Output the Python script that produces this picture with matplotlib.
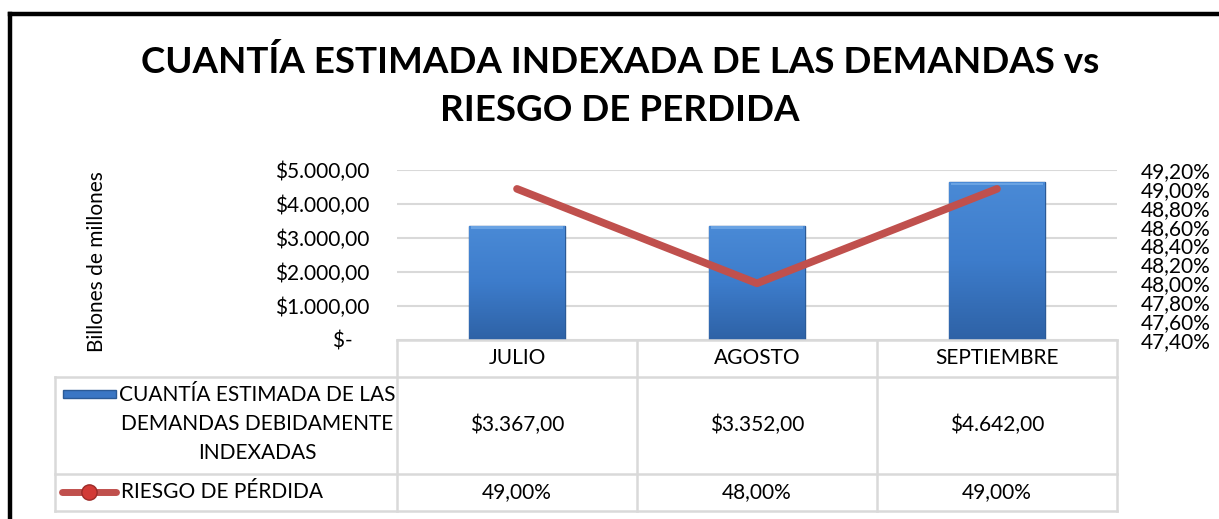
import numpy as np
import matplotlib
matplotlib.use("Agg")
import matplotlib.pyplot as plt
from matplotlib.lines import Line2D
from matplotlib.patches import Rectangle
from matplotlib.colors import LinearSegmentedColormap

# --- data -------------------------------------------------------------
months = ["JULIO", "AGOSTO", "SEPTIEMBRE"]
cuantia = [3367.0, 3352.0, 4642.0]      # billones de millones
riesgo = [49.0, 48.0, 49.0]             # riesgo de perdida, %
left_ticks = [0, 1000, 2000, 3000, 4000, 5000]
right_ticks = [47.4, 47.6, 47.8, 48.0, 48.2, 48.4, 48.6, 48.8, 49.0, 49.2]
title = "CUANTÍA ESTIMADA INDEXADA DE LAS DEMANDAS vs\nRIESGO DE PERDIDA"
serie_bar = "CUANTÍA ESTIMADA DE LAS\nDEMANDAS DEBIDAMENTE\nINDEXADAS"
serie_line = "RIESGO DE PÉRDIDA"
ylabel = "Billones de millones"


def money(v):
    if v == 0:
        return "$-   "
    s = f"{v:,.2f}"
    return "$" + s.replace(",", "X").replace(".", ",").replace("X", ".")


def pct(v):
    return f"{v:.2f}%".replace(".", ",")


W, H = 1219, 519
plt.rcParams["font.family"] = ["Lato", "DejaVu Sans"]
GRID = "#D9D9D9"
RED = "#C0504D"


def fx(px):
    return px / W


def fy(py):
    return 1 - py / H


fig = plt.figure(figsize=(W / 100, H / 100), dpi=100)
ax = fig.add_axes([fx(397), fy(340), fx(1117) - fx(397), fy(170) - fy(340)])

x = np.arange(len(months))
bars = ax.bar(x, cuantia, width=0.4, color="#3a76c4", edgecolor="#2b5a96",
              linewidth=1.0, zorder=2)

# vertical gradient + light top bevel on each bar
cmap = LinearSegmentedColormap.from_list("blu", ["#2e62a6", "#3d7ccb", "#4a8ad6"])
grad = np.linspace(0, 1, 128).reshape(-1, 1)
for b in bars:
    x0, y0 = b.get_x(), b.get_y()
    w, h = b.get_width(), b.get_height()
    im = ax.imshow(grad, extent=[x0, x0 + w, y0, y0 + h], origin="lower",
                   aspect="auto", cmap=cmap, zorder=2.1)
    im.set_clip_path(b)
    ax.add_patch(Rectangle((x0 + 0.01, y0 + h - 90), w - 0.02, 80,
                           facecolor="#6aa3e3", edgecolor="none", zorder=2.2))

ax.set_xlim(-0.5, len(months) - 0.5)
ax.set_ylim(0, 5000)
ax.set_xticks([])
ax.set_yticks(left_ticks, [money(v) for v in left_ticks])
ax.tick_params(axis="y", length=0, pad=20, labelsize=15)
ax.yaxis.grid(True, color=GRID, linewidth=1.5)
ax.set_axisbelow(True)
for s in ax.spines.values():
    s.set_visible(False)

ax2 = ax.twinx()
ax2.plot(x, riesgo, color=RED, linewidth=5.5, solid_capstyle="round",
         solid_joinstyle="round", zorder=3)
ax2.set_ylim(47.4, 49.2)
ax2.set_yticks(right_ticks, [pct(v) for v in right_ticks])
ax2.tick_params(axis="y", length=0, pad=17, labelsize=15)
for s in ax2.spines.values():
    s.set_visible(False)

fig.text(fx(620), fy(86), title, ha="center", va="center", fontsize=26.5,
         fontweight="bold", linespacing=1.55)
fig.text(fx(97), fy(262), ylabel, rotation=90, ha="center", va="center",
         fontsize=15)

# --- data table under the plot ---------------------------------------
to_fig = fig.transFigure.inverted()
col_edges = [to_fig.transform(ax.transData.transform((e, 0)))[0]
             for e in np.arange(len(months) + 1) - 0.5]
col_mid = [to_fig.transform(ax.transData.transform((c, 0)))[0] for c in x]
tl, tr = fx(55), col_edges[-1]
rows = [fy(340), fy(377), fy(474), fy(511)]


def gline(xs, ys):
    fig.add_artist(Line2D(xs, ys, color=GRID, linewidth=1.8,
                          transform=fig.transFigure))


gline([col_edges[0], tr], [rows[0]] * 2)
for r in rows[1:]:
    gline([tl, tr], [r, r])
for e in col_edges:
    gline([e, e], [rows[0], rows[3]])
gline([tl, tl], [rows[1], rows[3]])

for i, m in enumerate(months):
    fig.text(col_mid[i], fy(358), m, ha="center", va="center", fontsize=15)
    fig.text(col_mid[i], fy(425), money(cuantia[i]), ha="center",
             va="center", fontsize=15)
    fig.text(col_mid[i], fy(492), pct(riesgo[i]), ha="center", va="center",
             fontsize=15)

fig.text(fx(257), fy(424), serie_bar, ha="center", va="center",
         multialignment="center", fontsize=15, linespacing=1.55)
fig.text(fx(121), fy(492), serie_line, ha="left", va="center", fontsize=15)

# legend keys
fig.add_artist(Rectangle((fx(63), fy(398)), fx(116) - fx(63), fy(390) - fy(398),
                         facecolor="#3a76c4", edgecolor="#2b5a96",
                         linewidth=1.0, transform=fig.transFigure))
fig.add_artist(Line2D([fx(62), fx(116)], [fy(492)] * 2, color=RED,
                      linewidth=5, solid_capstyle="round",
                      transform=fig.transFigure))
fig.add_artist(Line2D([fx(89)], [fy(492)], marker="o", markersize=11,
                      color="#d23a36", markeredgecolor="#9c2a27",
                      transform=fig.transFigure))

# outer frame (top and left only visible)
fig.add_artist(Line2D([fx(10), fx(10)], [0, fy(14)], color="black",
                      linewidth=3.2, transform=fig.transFigure))
fig.add_artist(Line2D([fx(10), 1], [fy(14), fy(14)], color="black",
                      linewidth=3.2, transform=fig.transFigure))

fig.savefig("out.png", dpi=100)
plt.close(fig)
